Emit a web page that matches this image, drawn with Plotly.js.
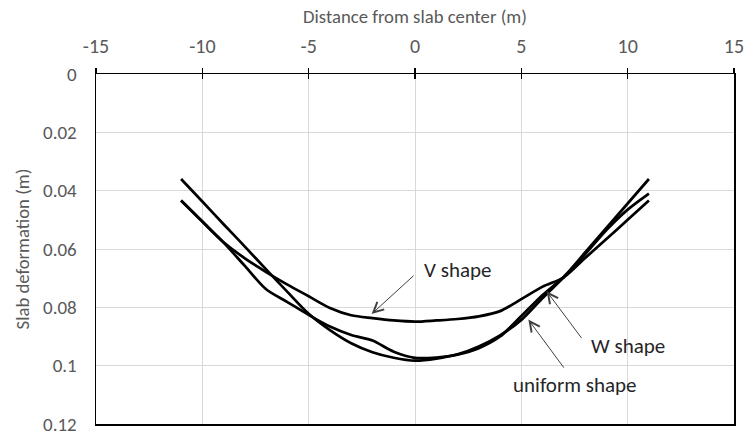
<!DOCTYPE html>
<html>
<head>
<meta charset="utf-8">
<script src="https://cdn.plot.ly/plotly-3.0.1.min.js"></script>
<style>html,body{margin:0;padding:0;background:#fff;}#chart{width:745px;height:436px;}</style>
</head>
<body>
<div id="chart"></div>
<script>
// distance from slab center (m)
const distance = [-11,-10,-9,-8,-7,-6,-5,-4,-3,-2,-1,0,1,2,3,4,5,6,7,8,9,10,11];
// slab deformation (m)
const vShape = [0.0434,0.0506,0.0577,0.0632,0.0679,0.0722,0.0762,0.0802,0.0827,0.0837,0.0845,0.0849,0.0845,0.0840,0.0831,0.0813,0.0772,0.0729,0.0697,0.0631,0.0566,0.0500,0.0434];
const wShape = [0.0434,0.0506,0.0578,0.0658,0.0738,0.0782,0.0826,0.0866,0.0895,0.0914,0.0952,0.0973,0.0972,0.0962,0.0940,0.0900,0.0830,0.0758,0.0695,0.0618,0.0535,0.0465,0.0410];
const uniformShape = [0.0360,0.0437,0.0515,0.0592,0.0670,0.0747,0.0822,0.0878,0.0923,0.0954,0.0973,0.0983,0.0976,0.0961,0.0934,0.0896,0.0843,0.0768,0.0696,0.0612,0.0528,0.0444,0.0360];
const xTicks = [-15,-10,-5,0,5,10,15];
const yTicks = [0,0.02,0.04,0.06,0.08,0.1,0.12];
const labels = ["V shape","W shape","uniform shape"];

const FONT = 'Carlito, "Liberation Sans Narrow", "Liberation Sans", Arial, sans-serif';
const lineStyle = {color:'#000000', width:2.7, shape:'spline', smoothing:0.8};

const traces = [
  {x:distance, y:vShape, mode:'lines', line:lineStyle, name:labels[0], hoverinfo:'skip'},
  {x:distance, y:wShape, mode:'lines', line:lineStyle, name:labels[1], hoverinfo:'skip'},
  {x:distance, y:uniformShape, mode:'lines', line:lineStyle, name:labels[2], hoverinfo:'skip'},
  {x:[], y:[], xaxis:'x2', yaxis:'y', mode:'lines', showlegend:false, hoverinfo:'skip'}
];

const arrowStyle = {showarrow:true, arrowhead:5, arrowsize:2, arrowwidth:1, arrowcolor:'#404040', axref:'x', ayref:'y', text:''};
const textStyle = {showarrow:false, font:{family:FONT, size:21, color:'#262626'}, xanchor:'left', yanchor:'middle'};

const layout = {
  width:745, height:436,
  margin:{l:96, r:11, t:74, b:12},
  paper_bgcolor:'#ffffff', plot_bgcolor:'#ffffff',
  showlegend:false,
  font:{family:FONT, size:18, color:'#595959'},
  xaxis:{
    side:'top', range:[-15,15], tickvals:xTicks, ticktext:xTicks.map(String),
    showgrid:true, gridcolor:'#d9d9d9', gridwidth:1, zeroline:false,
    showline:true, linecolor:'#000000', linewidth:1.5, mirror:true,
    ticks:'outside', ticklen:5, tickwidth:1.5, tickcolor:'#000000',
    ticklabelstandoff:7, ticklabeloverflow:'allow',
    tickfont:{family:FONT, size:20, color:'#595959'},
    title:{text:'Distance from slab center (m)', font:{family:FONT, size:18.7, color:'#595959'}, standoff:5},
    automargin:false
  },
  xaxis2:{
    overlaying:'x', side:'top', range:[-15,15], tickvals:xTicks,
    showticklabels:false, showgrid:false, zeroline:false, showline:false,
    ticks:'inside', ticklen:5, tickwidth:1.5, tickcolor:'#000000'
  },
  yaxis:{
    range:[0.12,0], tickvals:yTicks, ticktext:yTicks.map(String),
    showgrid:true, gridcolor:'#d9d9d9', gridwidth:1, zeroline:false,
    showline:true, linecolor:'#000000', linewidth:1.5, mirror:true,
    ticks:'', ticklabelstandoff:14, ticklabeloverflow:'allow',
    tickfont:{family:FONT, size:19, color:'#595959'},
    title:{text:'Slab deformation (m)', font:{family:FONT, size:18.7, color:'#595959'}, standoff:8},
    automargin:false
  },
  annotations:[
    Object.assign({}, arrowStyle, {x:-2.04, y:0.0823, ax:0.0, ay:0.0687}),
    Object.assign({}, textStyle, {x:0.35, y:0.0672, text:labels[0]}),
    Object.assign({}, arrowStyle, {x:6.19, y:0.0745, ax:7.88, ay:0.0910}),
    Object.assign({}, textStyle, {x:8.2, y:0.0932, text:labels[1]}),
    Object.assign({}, arrowStyle, {x:5.33, y:0.0842, ax:7.05, ay:0.1012}),
    Object.assign({}, textStyle, {x:4.5, y:0.1067, text:labels[2]})
  ]
};

Plotly.newPlot('chart', traces, layout, {staticPlot:true, displayModeBar:false});
</script>
</body>
</html>
